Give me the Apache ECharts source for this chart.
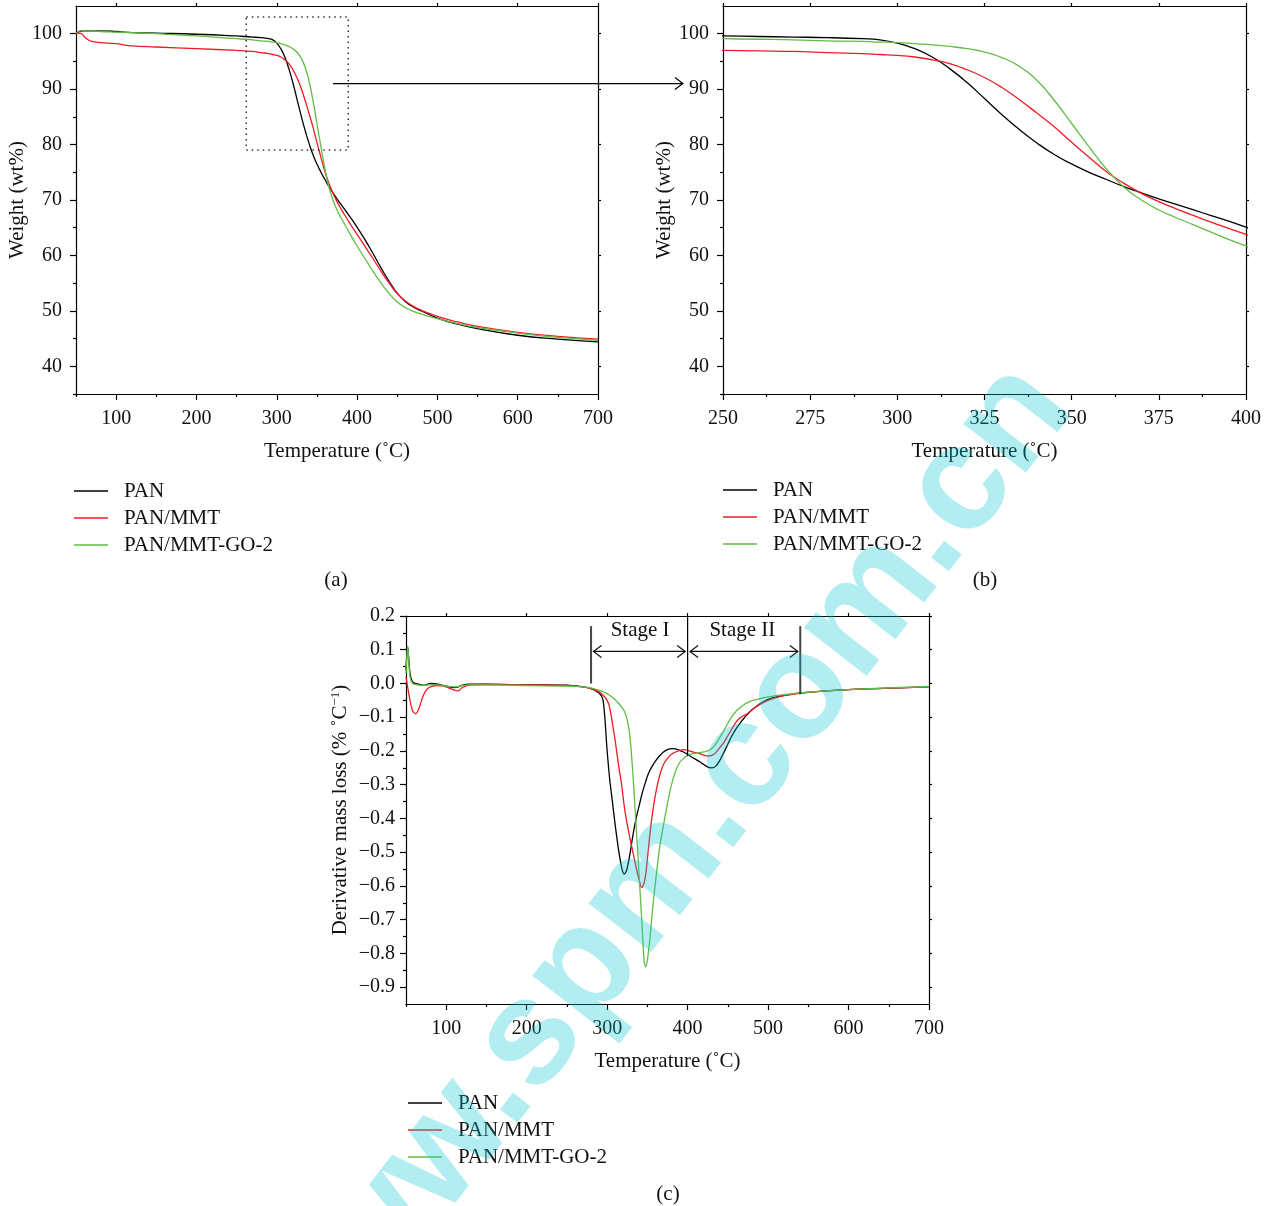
<!DOCTYPE html>
<html>
<head>
<meta charset="utf-8">
<script src="https://cdn.jsdelivr.net/npm/echarts@6/dist/echarts.min.js"></script>
<style>
  html, body { margin: 0; padding: 0; background: #fff; }
  #chart { width: 1271px; height: 1206px; }
</style>
</head>
<body>
<div id="chart"></div>
<script>
const SERIES_NAMES = ['PAN', 'PAN/MMT', 'PAN/MMT-GO-2']
const SERIES_COLORS = ['#000000', '#ee1c24', '#62bd45']
const FONT = '"Liberation Serif", "DejaVu Serif", serif'

// TGA curves (weight %, shared by panels a and b)
const tgaTemp = [50, 55, 60, 65, 70, 80, 100, 120, 150, 200,
  250, 260, 270, 280, 290, 295,
  300, 305, 310, 315, 320, 325, 330, 335, 340, 345, 350, 355, 360, 365, 370, 375, 380, 385, 390, 395, 400,
  410, 420, 430, 440, 450, 460, 470, 480,
  500, 525, 550, 600, 650, 700]
const tgaPan = [100.0, 100.4, 100.5, 100.5, 100.5, 100.5, 100.4, 100.2, 100.1, 99.9,
  99.6, 99.5, 99.4, 99.3, 99.1, 98.9,
  98.3, 97.3, 95.8, 93.7, 91.2, 88.3, 85.4, 82.7, 80.3, 78.2, 76.5, 75.0, 73.7, 72.4, 71.3, 70.2, 69.2, 68.2, 67.2, 66.2, 65.1,
  62.8, 60.3, 57.7, 55.3, 53.2, 51.7, 50.7, 50.0,
  48.7, 47.6, 46.8, 45.6, 44.9, 44.4]
const tgaPanMmt = [100.0, 100.1, 99.5, 98.9, 98.6, 98.4, 98.2, 97.8, 97.6, 97.3,
  97.0, 96.9, 96.8, 96.6, 96.4, 96.25,
  96.1, 95.8, 95.3, 94.6, 93.5, 92.1, 90.3, 88.1, 85.7, 83.2, 80.4, 77.7, 75.1, 73.0, 71.2, 69.7, 68.4, 67.2, 66.0, 64.9, 63.8,
  61.6, 59.4, 57.1, 55.0, 53.1, 51.8, 50.8, 50.1,
  49.0, 48.0, 47.2, 46.1, 45.4, 44.9]
const tgaPanMmtGo = [100.0, 100.5, 100.5, 100.5, 100.5, 100.4, 100.3, 100.2, 100.0, 99.6,
  99.1, 99.0, 98.9, 98.7, 98.6, 98.5,
  98.4, 98.2, 98.0, 97.7, 97.3, 96.7, 95.7, 94.1, 91.6, 88.0, 83.8, 79.6, 75.6, 72.3, 70.0, 68.2, 66.8, 65.5, 64.2, 62.9, 61.7,
  59.4, 57.1, 55.0, 53.1, 51.6, 50.6, 49.9, 49.4,
  48.6, 47.7, 47.0, 46.0, 45.2, 44.7]

// DTG curves (panel c)
const dtgTemp = [50, 52, 55, 58, 62, 66, 70, 75, 80, 90,
  100, 110, 115, 120, 130, 150, 200, 250, 270, 280,
  290, 295, 300, 303, 306, 310, 314, 318, 321, 324,
  328, 332, 336, 340, 343, 346, 348, 350, 353, 356,
  360, 365, 370, 375, 380, 385, 390, 395, 400, 405,
  410, 415, 420, 425, 430, 435, 440, 445, 450, 455,
  460, 465, 470, 475, 480, 490, 500, 510, 520, 540,
  560, 600, 650, 700]
const dtgPan = [0.04, 0.11, 0.03, 0.005, 0.0, -0.002, -0.005, -0.004, 0.0, -0.002,
  -0.008, -0.012, -0.01, -0.005, -0.002, -0.002, -0.004, -0.005, -0.01, -0.015,
  -0.028, -0.05, -0.2, -0.28, -0.34, -0.42, -0.49, -0.545, -0.565, -0.555,
  -0.51, -0.45, -0.40, -0.36, -0.33, -0.305, -0.29, -0.275, -0.258, -0.245,
  -0.23, -0.215, -0.203, -0.196, -0.193, -0.194, -0.198, -0.203, -0.21, -0.218,
  -0.225, -0.232, -0.24, -0.248, -0.25, -0.245, -0.228, -0.205, -0.18, -0.155,
  -0.135, -0.118, -0.103, -0.09, -0.078, -0.06, -0.047, -0.04, -0.035, -0.028,
  -0.024, -0.018, -0.014, -0.01]
const dtgPanMmt = [0.02, -0.01, -0.05, -0.08, -0.09, -0.075, -0.045, -0.02, -0.01, -0.006,
  -0.01, -0.02, -0.022, -0.012, -0.004, -0.003, -0.005, -0.006, -0.01, -0.015,
  -0.025, -0.035, -0.05, -0.07, -0.11, -0.17, -0.24, -0.30, -0.36, -0.405,
  -0.455, -0.50, -0.545, -0.585, -0.605, -0.59, -0.565, -0.52, -0.45, -0.39,
  -0.33, -0.275, -0.24, -0.222, -0.21, -0.203, -0.198, -0.196, -0.198, -0.202,
  -0.205, -0.208, -0.212, -0.215, -0.213, -0.205, -0.19, -0.175, -0.155, -0.135,
  -0.115, -0.102, -0.095, -0.088, -0.078, -0.062, -0.05, -0.042, -0.036, -0.029,
  -0.024, -0.018, -0.014, -0.01]
const dtgPanMmtGo = [0.03, 0.11, 0.02, 0.0, -0.003, -0.005, -0.006, -0.005, -0.003, -0.004,
  -0.008, -0.01, -0.009, -0.006, -0.004, -0.004, -0.006, -0.008, -0.01, -0.013,
  -0.02, -0.025, -0.03, -0.035, -0.04, -0.048, -0.058, -0.07, -0.08, -0.1,
  -0.15, -0.27, -0.42, -0.58, -0.70, -0.825, -0.84, -0.82, -0.76, -0.68,
  -0.59, -0.49, -0.42, -0.355, -0.30, -0.26, -0.235, -0.222, -0.213, -0.209,
  -0.207, -0.205, -0.203, -0.2, -0.193, -0.18, -0.16, -0.14, -0.118, -0.098,
  -0.083, -0.072, -0.063, -0.056, -0.051, -0.045, -0.04, -0.036, -0.033, -0.028,
  -0.024, -0.018, -0.013, -0.009]

// tick values
const tempTicks = [100, 200, 300, 400, 500, 600, 700]
const tempMinorTicks = [50, 150, 250, 350, 450, 550, 650]
const zoomTempTicks = [250, 275, 300, 325, 350, 375, 400]
const zoomTempMinorTicks = [262.5, 287.5, 312.5, 337.5, 362.5, 387.5]
const weightTicks = [40, 50, 60, 70, 80, 90, 100]
const weightMinorTicks = [35, 45, 55, 65, 75, 85, 95]
const dtgTicks = [-0.9, -0.8, -0.7, -0.6, -0.5, -0.4, -0.3, -0.2, -0.1, 0.0, 0.1, 0.2]
const dtgMinorTicks = [-0.85, -0.75, -0.65, -0.55, -0.45, -0.35, -0.25, -0.15, -0.05, 0.05, 0.15]

// annotations
const stageLines = [[280, 0.17, 0.0], [400, 0.2, -0.215], [540, 0.17, -0.032]]
const stageArrows = [[283, 397], [403, 537]]
const stageArrowY = 0.095
const stageLabels = [['Stage I', 341, 0.158], ['Stage II', 468, 0.158]]
const zoomBox = [262, 103, 389, 79]
const zoomArrow = { from: [370, 91], to: [238.5, 91] }

const FS = 20
const FS_TEXT = 21
const labelStyle = { fontFamily: FONT, fontSize: FS, color: '#111' }
const textStyle = { fontFamily: FONT, fontSize: FS_TEXT, color: '#111' }
const axisStroke = { color: '#000', width: 1.2 }

function axesFor(gi, pos, cfg) {
  const isX = pos === 'bottom'
  const mirror = isX ? 'top' : 'right'
  return [
    {
      gridIndex: gi, type: 'value', position: pos, min: cfg.min, max: cfg.max,
      axisLine: { show: true, onZero: false, lineStyle: axisStroke },
      axisTick: { show: true, customValues: cfg.major, length: 6, lineStyle: axisStroke },
      axisLabel: { customValues: cfg.major, formatter: cfg.fmt, margin: cfg.margin, ...labelStyle },
      splitLine: { show: false },
      name: cfg.name, nameLocation: 'middle', nameGap: cfg.nameGap,
      nameTextStyle: { ...textStyle, ...(cfg.nameRich ? { rich: cfg.nameRich } : {}) },
    },
    {
      gridIndex: gi, type: 'value', position: pos, min: cfg.min, max: cfg.max,
      axisLine: { show: false, onZero: false },
      axisTick: { show: true, customValues: cfg.minor, length: 3, lineStyle: axisStroke },
      axisLabel: { show: false }, splitLine: { show: false },
    },
    {
      gridIndex: gi, type: 'value', position: mirror, min: cfg.min, max: cfg.max,
      axisLine: { show: true, onZero: false, lineStyle: axisStroke },
      axisTick: { show: true, customValues: cfg.major, length: 3, lineStyle: axisStroke },
      axisLabel: { show: false }, splitLine: { show: false },
    },
  ]
}

const fmtInt = (v) => String(v)
const fmtDtg = (v) => (Math.abs(v) < 1e-9 ? '0.0' : v.toFixed(1).replace('-', '\u2212'))
const tempName = 'Temperature (\u02DAC)'

const xAxes = [
  ...axesFor(0, 'bottom', { min: 50, max: 700, major: tempTicks, minor: tempMinorTicks, fmt: fmtInt, margin: 15, name: tempName, nameGap: 47 }),
  ...axesFor(1, 'bottom', { min: 250, max: 400, major: zoomTempTicks, minor: zoomTempMinorTicks, fmt: fmtInt, margin: 15, name: tempName, nameGap: 47 }),
  ...axesFor(2, 'bottom', { min: 50, max: 700, major: tempTicks, minor: tempMinorTicks, fmt: fmtInt, margin: 15, name: tempName, nameGap: 47 }),
]
const yAxes = [
  ...axesFor(0, 'left', { min: 35, max: 105, major: weightTicks, minor: weightMinorTicks, fmt: fmtInt, margin: 14, name: 'Weight (wt%)', nameGap: 47 }),
  ...axesFor(1, 'left', { min: 35, max: 105, major: weightTicks, minor: weightMinorTicks, fmt: fmtInt, margin: 14, name: 'Weight (wt%)', nameGap: 45 }),
  ...axesFor(2, 'left', { min: -0.95, max: 0.2, major: dtgTicks, minor: dtgMinorTicks, fmt: fmtDtg, margin: 11,
    name: 'Derivative mass loss (% \u02DAC{sup|\u22121})', nameGap: 55,
    nameRich: { sup: { fontFamily: FONT, fontSize: 13, color: '#111', verticalAlign: 'top', padding: [0, 0, 9, 0] } } }),
]

function lineSeries(idx, grid, xs, ys, smooth) {
  return {
    type: 'line', name: SERIES_NAMES[idx], xAxisIndex: grid * 3, yAxisIndex: grid * 3,
    data: xs.map((t, i) => [t, ys[i]]),
    showSymbol: false, symbol: 'none', smooth, clip: true,
    color: SERIES_COLORS[idx], lineStyle: { color: SERIES_COLORS[idx], width: 1.3 },
    emphasis: { disabled: true },
  }
}

const tgaSets = [tgaPan, tgaPanMmt, tgaPanMmtGo]
const dtgSets = [dtgPan, dtgPanMmt, dtgPanMmtGo]
const series = []
for (let g = 0; g < 2; g++) tgaSets.forEach((ys, i) => series.push(lineSeries(i, g, tgaTemp, ys, 0.5)))
dtgSets.forEach((ys, i) => series.push(lineSeries(i, 2, dtgTemp, ys, 0.3)))

function legendAt(left, top) {
  return {
    left, top, orient: 'vertical', padding: 0, itemGap: 0,
    icon: 'rect', itemWidth: 34, itemHeight: 1.5,
    textStyle: { ...textStyle, lineHeight: 27, padding: [0, 0, 0, 11] },
    data: SERIES_NAMES,
  }
}

const chart = echarts.init(document.getElementById('chart'), null, { renderer: 'canvas' })
chart.setOption({
  animation: false,
  backgroundColor: '#fff',
  grid: [
    { left: 76, top: 6, width: 522, height: 388 },
    { left: 723, top: 6, width: 523, height: 388 },
    { left: 406, top: 616, width: 523, height: 388 },
  ],
  xAxis: xAxes,
  yAxis: yAxes,
  legend: [legendAt(74, 477.5), legendAt(723, 476.5), legendAt(408, 1089.5)],
  series,
})

// annotations drawn in pixel space from data coordinates
const toPx = (g, p) => chart.convertToPixel({ xAxisIndex: g * 3, yAxisIndex: g * 3 }, p)
const textEl = (text, x, y) => ({
  type: 'text', x, y, z: 50,
  style: { text, font: FS_TEXT + 'px ' + FONT, fill: '#111', align: 'center', verticalAlign: 'middle',
    textAlign: 'center', textVerticalAlign: 'middle' },
})
const graphics = []

stageLines.forEach(([x, y1, y2], i) => {
  const a = toPx(2, [x, y1]), b = toPx(2, [x, y2])
  graphics.push({ type: 'line', z: 50, shape: { x1: a[0], y1: a[1], x2: b[0], y2: b[1] },
    style: { stroke: i === 1 ? '#000' : '#444', lineWidth: i === 1 ? 1.2 : 2 } })
})
stageArrows.forEach(([x1, x2]) => {
  const a = toPx(2, [x1, stageArrowY]), b = toPx(2, [x2, stageArrowY])
  graphics.push({ type: 'line', z: 50, shape: { x1: a[0], y1: a[1], x2: b[0], y2: b[1] }, style: { stroke: '#111', lineWidth: 1.2 } })
  graphics.push({ type: 'polyline', z: 50, shape: { points: [[a[0] + 8, a[1] - 6], [a[0], a[1]], [a[0] + 8, a[1] + 6]] }, style: { stroke: '#111', lineWidth: 1.2, fill: null } })
  graphics.push({ type: 'polyline', z: 50, shape: { points: [[b[0] - 8, b[1] - 6], [b[0], b[1]], [b[0] - 8, b[1] + 6]] }, style: { stroke: '#111', lineWidth: 1.2, fill: null } })
})
stageLabels.forEach(([t, x, y]) => {
  const p = toPx(2, [x, y])
  graphics.push(textEl(t, p[0], p[1]))
})

const boxA = toPx(0, [zoomBox[0], zoomBox[1]]), boxB = toPx(0, [zoomBox[2], zoomBox[3]])
graphics.push({ type: 'rect', z: 50, shape: { x: boxA[0], y: boxA[1], width: boxB[0] - boxA[0], height: boxB[1] - boxA[1] },
  style: { fill: null, stroke: '#333', lineWidth: 1.5, lineDash: [1.5, 4] } })
const arS = toPx(0, zoomArrow.from), arE = toPx(1, zoomArrow.to)
graphics.push({ type: 'line', z: 50, shape: { x1: arS[0], y1: arS[1], x2: arE[0], y2: arS[1] }, style: { stroke: '#000', lineWidth: 1.2 } })
graphics.push({ type: 'polyline', z: 50, shape: { points: [[arE[0] - 8, arS[1] - 6], [arE[0], arS[1]], [arE[0] - 8, arS[1] + 6]] }, style: { stroke: '#000', lineWidth: 1.2, fill: null } })

graphics.push(textEl('(a)', 336, 580), textEl('(b)', 985, 580), textEl('(c)', 668, 1194))

// site watermark
graphics.push({
  type: 'text', x: 655, y: 880, rotation: 52 * Math.PI / 180, z: 100, silent: true,
  style: { text: 'www.spm.com.cn', font: 'bold 150px "Liberation Sans", Arial, sans-serif',
    fill: 'rgba(0, 200, 210, 0.3)', align: 'center', verticalAlign: 'middle', textAlign: 'center', textVerticalAlign: 'middle' },
})

chart.setOption({ graphic: graphics })
</script>
</body>
</html>
